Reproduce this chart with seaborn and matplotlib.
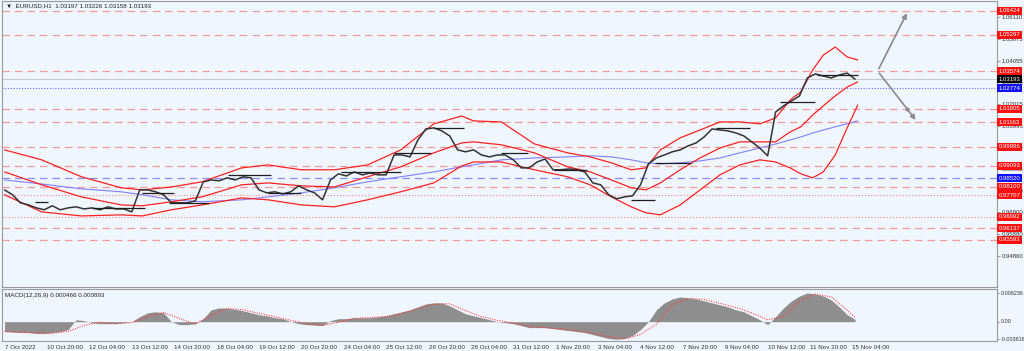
import numpy as np
import pandas as pd
import seaborn as sns
import matplotlib.pyplot as plt

step = 6
closes = [0.9796, 0.9773, 0.9735, 0.9725, 0.9711, 0.9702, 0.9721, 0.9702, 0.9711, 0.9716,
          0.9706, 0.9711, 0.9702, 0.9716, 0.9706, 0.9706, 0.9692, 0.9796, 0.9796, 0.9787,
          0.9773, 0.9735, 0.9735, 0.9735, 0.9744, 0.9834, 0.9843, 0.9839, 0.9853, 0.9843,
          0.9858, 0.9853, 0.9796, 0.9782, 0.9787, 0.9777, 0.9787, 0.9815, 0.9796, 0.9782,
          0.9749, 0.9843, 0.9872, 0.9862, 0.9881, 0.9867, 0.9876, 0.9867, 0.9867, 0.9961,
          0.9961, 0.9952, 1.0032, 1.0084, 1.0089, 1.0075, 1.0051, 0.9985, 0.9976, 0.9985,
          0.9961, 0.9952, 0.9961, 0.9961, 0.9938, 0.9900, 0.9900, 0.9928, 0.9942, 0.9891,
          0.9891, 0.9895, 0.9891, 0.9881, 0.9829, 0.9820, 0.9773, 0.9754, 0.9763, 0.9768,
          0.9820, 0.9919, 0.9947, 0.9961, 0.9976, 0.9985, 1.0004, 1.0018, 1.0046, 1.0084,
          1.0079, 1.0075, 1.0065, 1.0051, 1.0023, 0.9994, 0.9957, 1.0164, 1.0193, 1.0216,
          1.0240, 1.0325, 1.0344, 1.0334, 1.0325, 1.0339, 1.0348, 1.0319]

# bollinger bands + slow MA, sampled at these bars
band_bar = [0, 28, 58, 88, 104, 126, 149, 179, 199, 224, 249, 274, 299, 324, 345, 354, 375,
            400, 425, 442, 458, 473, 484, 495, 510, 525, 540, 555, 570, 582, 593, 601, 610,
            618, 627, 636, 644]
bb_upper = [0.9985, 0.9938, 0.9858, 0.9806, 0.9796, 0.9810, 0.9834, 0.9900, 0.9914, 0.9891,
            0.9891, 0.9914, 0.9985, 1.0108, 1.0145, 1.0122, 1.0117, 1.0013, 0.9971, 0.9952,
            0.9924, 0.9891, 0.9900, 0.9985, 1.0042, 1.0079, 1.0117, 1.0117, 1.0108, 1.0136,
            1.0221, 1.0259, 1.0363, 1.0433, 1.0471, 1.0424, 1.0410]
bb_mid = [0.9881, 0.9820, 0.9763, 0.9725, 0.9721, 0.9740, 0.9763, 0.9820, 0.9829, 0.9815,
          0.9810, 0.9858, 0.9905, 0.9971, 1.0018, 1.0023, 1.0009, 0.9971, 0.9905, 0.9881,
          0.9843, 0.9806, 0.9796, 0.9829, 0.9891, 0.9947, 0.9994, 1.0023, 1.0023, 1.0023,
          1.0070, 1.0094, 1.0150, 1.0193, 1.0240, 1.0282, 1.0306]
bb_lower = [0.9773, 0.9692, 0.9673, 0.9678, 0.9673, 0.9702, 0.9725, 0.9758, 0.9749, 0.9725,
            0.9716, 0.9749, 0.9787, 0.9829, 0.9909, 0.9928, 0.9928, 0.9891, 0.9858, 0.9820,
            0.9763, 0.9716, 0.9688, 0.9678, 0.9725, 0.9796, 0.9867, 0.9914, 0.9938, 0.9928,
            0.9900, 0.9872, 0.9853, 0.9881, 0.9961, 1.0089, 1.0197]
ma_slow = [0.9843, 0.9824, 0.9801, 0.9787, 0.9773, 0.9749, 0.9740, 0.9749, 0.9763, 0.9782,
           0.9806, 0.9834, 0.9858, 0.9881, 0.9905, 0.9914, 0.9938, 0.9947, 0.9952, 0.9957,
           0.9952, 0.9938, 0.9924, 0.9919, 0.9924, 0.9933, 0.9947, 0.9971, 0.9994, 1.0013,
           1.0032, 1.0046, 1.0065, 1.0079, 1.0094, 1.0108, 1.0122]

# MACD(12,26,9): main every 6 bars, signal every 12 bars
macd_main = [-0.00215, -0.00226, -0.00237, -0.00237, -0.00258, -0.00258, -0.00237, -0.00215, -0.00172, 0.00043,
             0.00022, -0.00022, -0.00043, -0.00043, -0.00043, -0.00022, 0.0, 0.00108, 0.00194, 0.00215,
             0.00194, 0.0, -0.00065, -0.00065, -0.00043, 0.00065, 0.00258, 0.00301, 0.00290, 0.00269,
             0.00237, 0.00194, 0.00151, 0.00129, 0.00086, 0.00065, 0.0, -0.00043, -0.00065, -0.00075,
             -0.00086, 0.00022, 0.00065, 0.00065, 0.00086, 0.00086, 0.00086, 0.00108, 0.00129, 0.00172,
             0.00215, 0.00258, 0.00323, 0.00387, 0.00409, 0.00409, 0.00344, 0.00258, 0.00172, 0.00129,
             0.00086, 0.00043, 0.0, -0.00022, -0.00043, -0.00086, -0.00129, -0.00129, -0.00129, -0.00151,
             -0.00172, -0.00194, -0.00215, -0.00237, -0.00280, -0.00323, -0.00366, -0.00382, -0.00366, -0.00301,
             -0.00172, 0.0, 0.00258, 0.00409, 0.00495, 0.00538, 0.00516, 0.00495, 0.00452, 0.00409,
             0.00366, 0.00323, 0.00258, 0.00215, 0.00129, 0.00043, -0.00065, 0.00108, 0.00301, 0.00452,
             0.00559, 0.00624, 0.00602, 0.00559, 0.00473, 0.00323, 0.00151, 0.00047]
signal_bar = list(range(0, 637, 12)) + [642]
macd_signal = [-0.0021, -0.0023, -0.0024, -0.0025, -0.0021, -0.0008, -0.0001, -0.0004, -0.0002, 0.0011,
               0.0020, 0.0007, -0.0005, 0.0014, 0.0029, 0.0026, 0.0018, 0.0011, 0.0003, -0.0004,
               -0.0008, -0.0001, 0.0007, 0.0009, 0.0011, 0.0018, 0.0028, 0.0038, 0.0039, 0.0024,
               0.0011, 0.0003, -0.0003, -0.0010, -0.0013, -0.0016, -0.0020, -0.0025, -0.0033, -0.0037,
               -0.0028, -0.0005, 0.0037, 0.0051, 0.0048, 0.0040, 0.0031, 0.0019, 0.0004, 0.0012,
               0.0045, 0.0060, 0.0054, 0.0025, 0.0009]

# horizontal levels
red_levels = [1.06424, 1.05297, 1.03574, 1.01805, 1.01163, 0.99996, 0.99093,
              0.98100, 0.97707, 0.96692, 0.96137, 0.95593]
dotted_levels = [0.97707, 0.96692]
blue_level = 0.98520
bid_price = 1.03193
ask_line = 1.02774
price_ticks = [1.06110, 1.05075, 1.04055, 1.03035, 1.02015, 1.00995, 0.99975,
               0.98955, 0.97920, 0.96900, 0.95880, 0.94860]

# short support / resistance segments
seg_start = [23, 66, 104, 124, 169, 199, 254, 294, 324, 375, 415, 473, 491, 537, 585, 613]
seg_end = [33, 106, 128, 154, 201, 224, 299, 322, 347, 395, 440, 491, 518, 563, 612, 644]
seg_level = [0.9740, 0.9711, 0.9782, 0.9735, 0.9867, 0.9782, 0.9881, 0.9971, 1.0089,
             0.9971, 0.9891, 0.9749, 0.9924, 1.0089, 1.0212, 1.0339]

# projected scenarios
proj_start = (659, 1.03574)
proj_up = (682, 1.06424)
proj_down = (689, 1.01163)
proj_mid = (681, 1.01805)

time_labels = ['7 Oct 2022', '10 Oct 20:00', '12 Oct 04:00', '13 Oct 12:00', '14 Oct 20:00',
               '18 Oct 04:00', '19 Oct 12:00', '20 Oct 20:00', '24 Oct 04:00', '25 Oct 12:00',
               '26 Oct 20:00', '28 Oct 04:00', '31 Oct 12:00', '1 Nov 20:00', '3 Nov 04:00',
               '4 Nov 12:00', '7 Nov 20:00', '9 Nov 04:00', '10 Nov 12:00', '11 Nov 20:00',
               '15 Nov 04:00']
label_every = 32

sns.set_style('white')
plt.rcParams['font.family'] = ['Liberation Sans', 'DejaVu Sans']

bg = '#eff6fd'
fig = plt.figure(figsize=(10.24, 3.51), dpi=100, facecolor=bg)
ax = fig.add_axes([0.002, 0.183, 0.9715, 0.814])
axm = fig.add_axes([0.002, 0.0285, 0.9715, 0.148], sharex=ax)

price = pd.DataFrame({'bar': np.arange(len(closes)) * step, 'close': closes})
bands = pd.DataFrame({'bar': band_bar, 'upper': bb_upper, 'mid': bb_mid,
                      'lower': bb_lower, 'ma': ma_slow})

for a in (ax, axm):
    a.set_facecolor(bg)
    for s in a.spines.values():
        s.set_color('#9a9a9a')
        s.set_linewidth(0.8)

# levels
for lv in red_levels:
    ls = (0, (1, 1.5)) if lv in dotted_levels else (0, (6, 4))
    ax.axhline(lv, color='#f39a9a', lw=0.9, ls=ls, zorder=1)
ax.axhline(blue_level, color='#8c8cff', lw=0.9, ls=(0, (6, 4)), zorder=1)
ax.axhline(ask_line, color='#6a6aff', lw=0.8, ls=(0, (1, 1.5)), zorder=1)
ax.axhline(bid_price, color='#c9c9c9', lw=0.8, zorder=1)

sns.lineplot(data=bands, x='bar', y='ma', ax=ax, color='#8080ff', lw=0.8)
for col in ['upper', 'mid', 'lower']:
    sns.lineplot(data=bands, x='bar', y=col, ax=ax, color='#ff2020', lw=0.9)
sns.lineplot(data=price, x='bar', y='close', ax=ax, color='#333333', lw=1.1)
ax.hlines(seg_level, seg_start, seg_end, color='#1e1e1e', lw=0.9)

arrow = dict(arrowstyle='-|>', color='#8a8a8a', lw=1.2, mutation_scale=7)
ax.annotate('', xy=proj_up, xytext=proj_start, arrowprops=arrow)
ax.annotate('', xy=proj_down, xytext=proj_start, arrowprops=arrow)
ax.plot(*proj_mid, marker='o', ms=2, color='#8a8a8a')

ax.set_xlim(-1.9, 749)
ax.set_ylim(0.93383, 1.06882)
ax.set_xlabel('')
ax.set_ylabel('')
ax.yaxis.tick_right()
ax.set_yticks(price_ticks)
ax.set_yticklabels([f'{v:.5f}' for v in price_ticks])
ax.tick_params(axis='y', labelsize=4.3, length=2, pad=1.5, colors='#9a9a9a', labelcolor='#333333')
ax.tick_params(axis='x', bottom=False, labelbottom=False)


def tag(a, y, txt, fc):
    a.text(1.002, y, txt, transform=a.get_yaxis_transform(), fontsize=4.3, color='white',
           va='center', ha='left', clip_on=False, zorder=5,
           bbox=dict(boxstyle='square,pad=0.25', fc=fc, ec='none'))


for lv in red_levels:
    tag(ax, lv, f'{lv:.5f}', '#ff1010')
tag(ax, blue_level, f'{blue_level:.5f}', '#1010ff')
tag(ax, ask_line, f'{ask_line:.5f}', '#1010ff')
tag(ax, bid_price, f'{bid_price:.5f}', '#000000')

ax.text(0.004, 0.993, '\u25bc  EURUSD,H1  1.03197 1.03226 1.03158 1.03193', transform=ax.transAxes,
        fontsize=4.5, va='top', ha='left', color='#222222')

# MACD panel
mbar = np.arange(len(macd_main)) * step
axm.fill_between(mbar, macd_main, 0, color='#8e8e8e', lw=0)
sig = pd.DataFrame({'bar': signal_bar, 'signal': macd_signal})
sns.lineplot(data=sig, x='bar', y='signal', ax=axm, color='#ff4040', lw=0.8, ls=(0, (1, 1.2)))
axm.set_ylim(-0.0042, 0.0071)
axm.set_xlabel('')
axm.set_ylabel('')
axm.yaxis.tick_right()
axm.set_yticks([0.006236, 0.0, -0.003816])
axm.set_yticklabels(['0.006236', '0.00', '-0.003816'])
axm.tick_params(axis='y', labelsize=3.9, length=1.5, pad=1, colors='#9a9a9a', labelcolor='#333333')
axm.set_xticks(np.arange(len(time_labels)) * label_every)
axm.set_xticklabels(time_labels)
axm.tick_params(axis='x', labelsize=4.5, length=2, pad=0.8, colors='#555555', labelcolor='#333333')
for lbl in axm.get_xticklabels():
    lbl.set_ha('left')
for lbl in axm.get_yticklabels():
    lbl.set_va('center')
axm.text(0.003, 0.93, 'MACD(12,26,9) 0.000466 0.000893', transform=axm.transAxes,
         fontsize=4.5, va='top', ha='left', color='#222222')

fig.savefig('out.png', dpi=100, facecolor=bg)
